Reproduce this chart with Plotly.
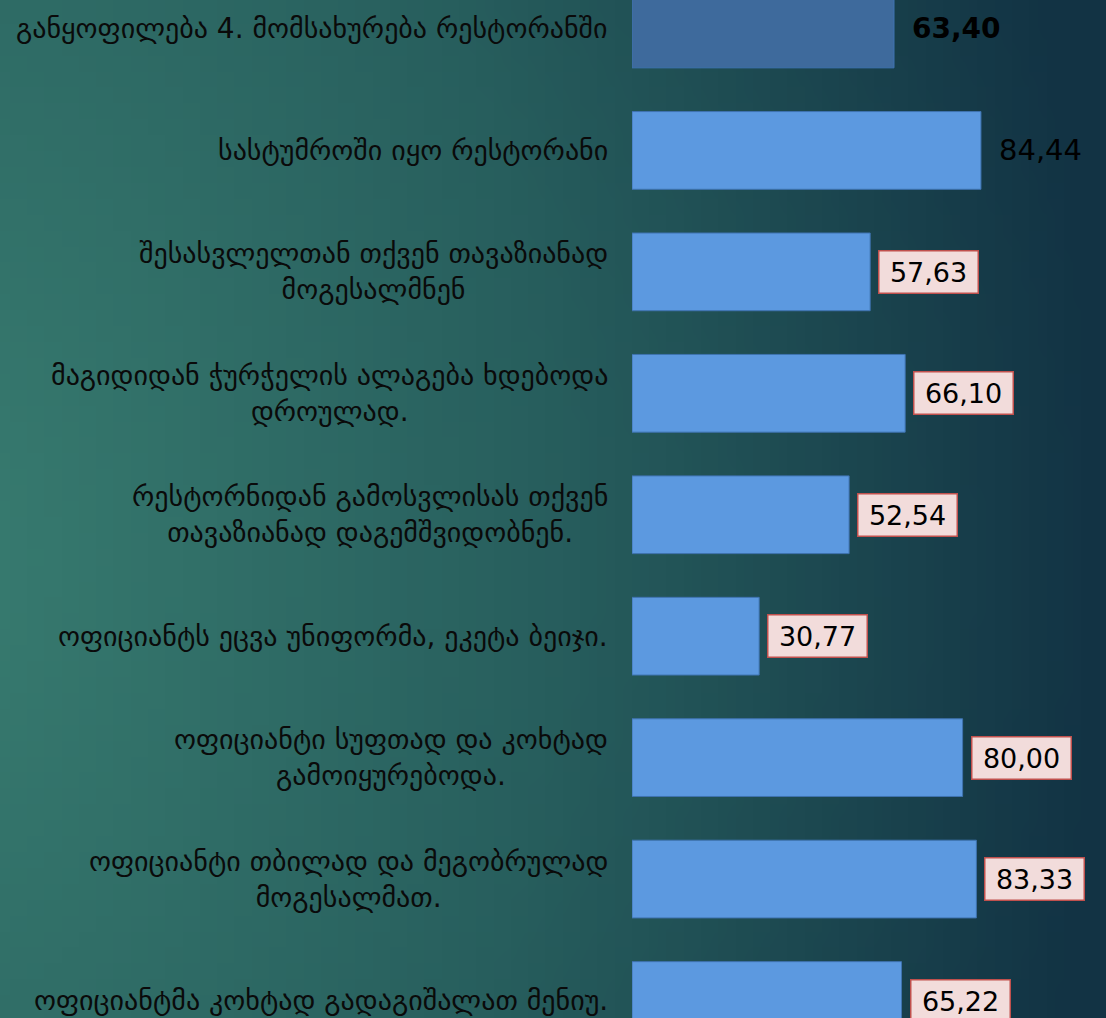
import base64
import struct
import zlib

import plotly.graph_objects as go

# Data
categories = [
    "განყოფილება 4. მომსახურება რესტორანში",
    "სასტუმროში იყო რესტორანი",
    "შესასვლელთან თქვენ თავაზიანად<br>მოგესალმნენ",
    "მაგიდიდან ჭურჭელის ალაგება ხდებოდა<br>დროულად.",
    "რესტორნიდან გამოსვლისას თქვენ<br>თავაზიანად დაგემშვიდობნენ.",
    "ოფიციანტს ეცვა უნიფორმა, ეკეტა ბეიჯი.",
    "ოფიციანტი სუფთად და კოხტად<br>გამოიყურებოდა.",
    "ოფიციანტი თბილად და მეგობრულად<br>მოგესალმათ.",
    "ოფიციანტმა კოხტად გადაგიშალათ მენიუ.",
]
values = [63.40, 84.44, 57.63, 66.10, 52.54, 30.77, 80.00, 83.33, 65.22]

FONT = "DejaVu Sans"
BAR_COLOR = "#5c99e0"
HEADER_COLOR = "#3e6a9c"


def gradient_png(w=64, h=64):
    """
    Small PNG with the teal-to-navy slide background, stretched by the browser
    """
    stops = [(0.0, (56, 124, 112)), (0.55, (39, 94, 93)), (1.05, (18, 51, 68))]

    def colour(d):
        d = min(max(d, 0.0), stops[-1][0])
        for (d0, c0), (d1, c1) in zip(stops[:-1], stops[1:]):
            if d <= d1:
                t = (d - d0) / (d1 - d0)
                return [round(a + (b - a) * t) for a, b in zip(c0, c1)]
        return list(stops[-1][1])

    rows = []
    for j in range(h):
        fy = j / (h - 1)
        row = bytearray()
        for i in range(w):
            fx = i / (w - 1)
            dx = fx + 0.05
            dy = (fy - 0.55) * 0.55
            row.extend(colour((dx * dx + dy * dy) ** 0.5))
        rows.append(b"\x00" + bytes(row))

    def chunk(tag, data):
        out = struct.pack(">I", len(data)) + tag + data
        return out + struct.pack(">I", zlib.crc32(tag + data) & 0xFFFFFFFF)

    png = b"\x89PNG\r\n\x1a\n"
    png += chunk(b"IHDR", struct.pack(">IIBBBBB", w, h, 8, 2, 0, 0, 0))
    png += chunk(b"IDAT", zlib.compress(b"".join(rows), 9))
    png += chunk(b"IEND", b"")
    return "data:image/png;base64," + base64.b64encode(png).decode()


bar_colors = [HEADER_COLOR] + [BAR_COLOR] * (len(values) - 1)

fig = go.Figure(
    go.Bar(
        x=values,
        y=categories,
        orientation="h",
        width=0.64,
        marker=dict(color=bar_colors, line=dict(color="#3f73b0", width=1)),
        hoverinfo="x+y",
    )
)

# Category labels, centred lines, right-aligned block
for cat in categories:
    fig.add_annotation(
        x=0,
        xref="paper",
        y=cat,
        yref="y",
        text=cat,
        showarrow=False,
        xanchor="right",
        xshift=-22,
        align="center",
        font=dict(family=FONT, size=28, color="#0a0a0a"),
    )

# Value labels: header in bold, second plain, the rest in pink boxes
for i, (cat, val) in enumerate(zip(categories, values)):
    label = f"{val:.2f}".replace(".", ",")
    if i == 0:
        fig.add_annotation(
            x=val, y=cat, text=f"<b>{label}</b>", showarrow=False,
            xanchor="left", xshift=16,
            font=dict(family=FONT, size=28, color="black"),
        )
    elif i == 1:
        fig.add_annotation(
            x=val, y=cat, text=label, showarrow=False,
            xanchor="left", xshift=16,
            font=dict(family=FONT, size=29, color="black"),
        )
    else:
        fig.add_annotation(
            x=val, y=cat, text="\u2009" + label + "\u2009", showarrow=False,
            xanchor="left", xshift=8,
            bgcolor="#f2dcdb", bordercolor="#c0504d", borderwidth=1.5, borderpad=5,
            font=dict(family=FONT, size=27, color="black"),
        )

fig.update_xaxes(
    range=[0, 114.7], visible=False, showgrid=False, zeroline=False, fixedrange=True
)
fig.update_yaxes(
    range=[8.144, -0.2387], showticklabels=False, showgrid=False,
    zeroline=False, ticks="", title="",
)
fig.update_layout(
    width=1106,
    height=1018,
    margin=dict(l=632, r=0, t=0, b=0, pad=0),
    paper_bgcolor="#1f5258",
    plot_bgcolor="rgba(0,0,0,0)",
    showlegend=False,
    font=dict(family=FONT),
    images=[
        dict(
            source=gradient_png(),
            xref="paper", yref="paper",
            x=-632 / 474, y=1, sizex=1106 / 474, sizey=1,
            xanchor="left", yanchor="top",
            sizing="stretch", layer="below",
        )
    ],
)

# Drop the page's default body margin so the figure fills the window
fig.write_html(
    "out.html",
    config={"displayModeBar": False},
    post_script="document.body.style.margin='0';document.body.style.overflow='hidden';",
)
